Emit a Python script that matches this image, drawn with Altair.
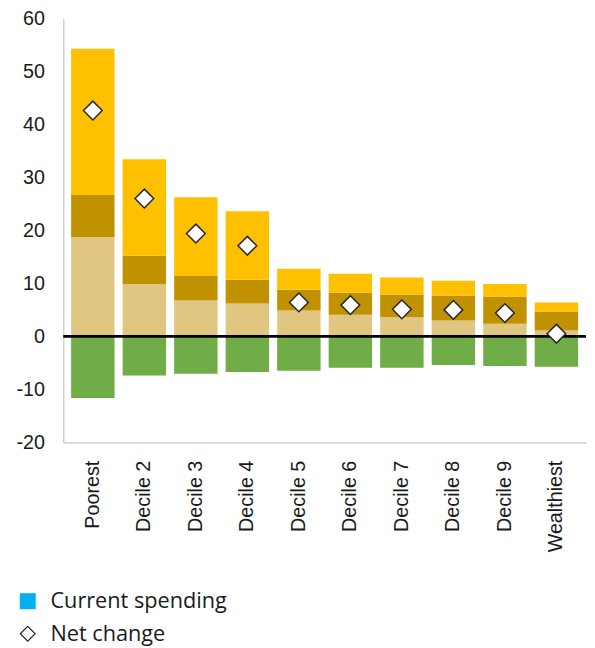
import altair as alt
import pandas as pd

deciles = ["Poorest", "Decile 2", "Decile 3", "Decile 4", "Decile 5",
           "Decile 6", "Decile 7", "Decile 8", "Decile 9", "Wealthiest"]

# stacked positive components (bottom -> top) and the negative component
part_base = [18.75, 9.9, 6.75, 6.2, 4.9, 4.1, 3.6, 3.0, 2.4, 1.1]
part_mid = [7.9, 5.3, 4.65, 4.5, 3.9, 4.15, 4.3, 4.7, 5.1, 3.6]
part_top = [27.6, 18.2, 14.85, 12.9, 3.95, 3.55, 3.2, 2.8, 2.4, 1.7]
part_neg = [-11.6, -7.4, -7.05, -6.7, -6.5, -5.9, -5.9, -5.4, -5.6, -5.75]
net_change = [42.6, 26.0, 19.4, 17.1, 6.4, 5.9, 5.1, 5.0, 4.4, 0.5]

parts = ["base", "mid", "top", "neg"]
part_colors = ["#E0C680", "#C09100", "#FFC000", "#70AD47"]
part_values = [part_base, part_mid, part_top, part_neg]

legend_items = ["Current spending", "Net change"]
y_ticks = [-20, -10, 0, 10, 20, 30, 40, 50, 60]

rows = []
for k, (p, vals) in enumerate(zip(parts, part_values)):
    for d, v in zip(deciles, vals):
        rows.append({"decile": d, "part": p, "value": v, "rank": k})
bars_df = pd.DataFrame(rows)

net_df = pd.DataFrame({"decile": deciles, "net": net_change,
                       "series": ["Net change"] * len(deciles)})
zero_df = pd.DataFrame({"y": [0]})

AXIS_FONT = "Liberation Sans, Arial, Helvetica, sans-serif"

x_enc = alt.X("decile:N", sort=deciles, title=None,
              scale=alt.Scale(paddingInner=0.157, paddingOuter=0.153),
              axis=alt.Axis(labelAngle=-90, labelFontSize=20, labelFont=AXIS_FONT,
                            labelColor="#1a1a1a", labelPadding=18, ticks=False,
                            domainColor="#D0D0D0", domainWidth=1.5, grid=False))
y_scale = alt.Scale(domain=[-20, 60], nice=False)
y_axis = alt.Axis(values=y_ticks, labelExpr="'' + datum.value", labelFontSize=20,
                  labelFont=AXIS_FONT, labelColor="#1a1a1a", labelPadding=19,
                  ticks=False, grid=False, domainColor="#D0D0D0", domainWidth=1.5)

bars = alt.Chart(bars_df).mark_bar().encode(
    x=x_enc,
    y=alt.Y("value:Q", stack="zero", scale=y_scale, axis=y_axis, title=None),
    color=alt.Color("part:N", scale=alt.Scale(domain=parts, range=part_colors), legend=None),
    order=alt.Order("rank:Q"),
)

zero = alt.Chart(zero_df).mark_rule(color="black", strokeWidth=3).encode(
    y=alt.Y("y:Q", scale=y_scale)
)

points = alt.Chart(net_df).mark_point(filled=True, size=361, strokeWidth=1.5, opacity=1).encode(
    x=alt.X("decile:N", sort=deciles),
    y=alt.Y("net:Q", scale=y_scale),
    shape=alt.Shape("series:N", title=None,
                    scale=alt.Scale(domain=legend_items, range=["square", "diamond"])),
    fill=alt.Fill("series:N", title=None,
                  scale=alt.Scale(domain=legend_items, range=["#00B0F0", "#FFFFFF"])),
    stroke=alt.Stroke("series:N", title=None,
                      scale=alt.Scale(domain=legend_items, range=["#00B0F0", "#262626"])),
)

chart = alt.layer(bars, zero, points).properties(
    width=530, height=430,
    autosize=alt.AutoSizeParams(type="none"),
    padding={"left": 56, "top": 6, "right": 1, "bottom": 204},
).configure_view(stroke=None).configure_legend(
    orient="none", legendX=-47, legendY=580, padding=0,
    labelFont="Open Sans", labelFontSize=22, labelColor="#1a1a1a", labelLimit=0,
    symbolSize=225, symbolStrokeWidth=1.2, rowPadding=11, labelOffset=12,
)

chart.save("out.html", embed_options={"renderer": "svg", "actions": False})
